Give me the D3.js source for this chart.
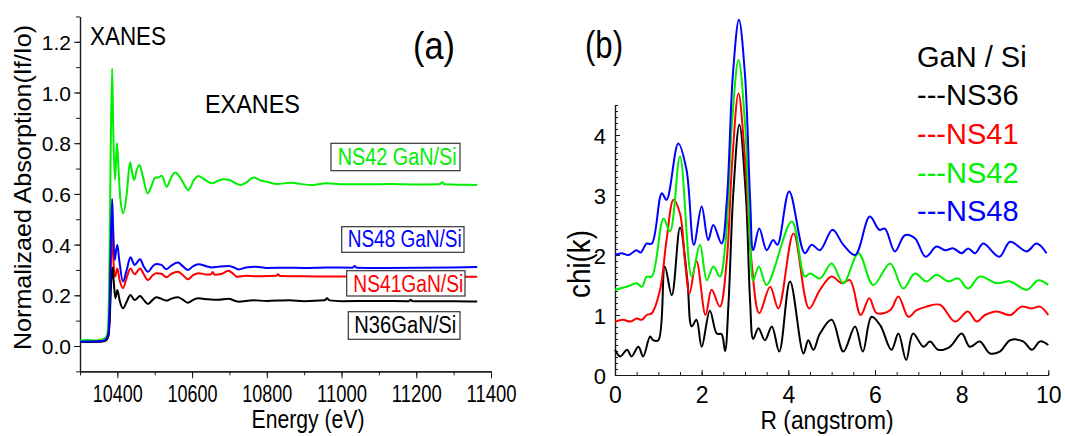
<!DOCTYPE html>
<html>
<head>
<meta charset="utf-8">
<script src="https://cdn.jsdelivr.net/npm/d3@7"></script>
<style>
  html, body { margin: 0; padding: 0; background: #fff; }
  svg { display: block; }
  text { font-family: "Liberation Sans", Arial, sans-serif; }
</style>
</head>
<body>
<svg id="chart" width="1065" height="436"></svg>
<script>
// ---------- (a) XANES / EXAFS: normalized absorption vs energy ----------
const energyTicks = [10400, 10600, 10800, 11000, 11200, 11400];
const absorptionTicks = [0.0, 0.2, 0.4, 0.6, 0.8, 1.0, 1.2];

// [energy (eV), normalized absorption]
const xanesNS42 = [[10300,0.022],[10320,0.024],[10340,0.022],[10360,0.026],[10370,0.035],[10375,0.07],[10379,0.35],[10382,0.75],[10386,1.095],[10389,0.85],[10393.5,0.655],[10397,0.75],[10399,0.80],[10403,0.70],[10408,0.58],[10416,0.523],[10425,0.60],[10434,0.725],[10440,0.68],[10445,0.655],[10451,0.69],[10459,0.714],[10468,0.67],[10481,0.602],[10491,0.63],[10501,0.664],[10510,0.665],[10519,0.672],[10532,0.628],[10544,0.665],[10555,0.684],[10570,0.66],[10590,0.615],[10605,0.655],[10617,0.671],[10635,0.655],[10653,0.642],[10670,0.652],[10684,0.658],[10700,0.655],[10729,0.635],[10745,0.645],[10764,0.665],[10785,0.652],[10800,0.648],[10827,0.639],[10863,0.644],[10916,0.635],[10960,0.642],[11005,0.638],[11060,0.638],[11130,0.639],[11200,0.637],[11262,0.638],[11269,0.646],[11276,0.638],[11330,0.636],[11363,0.635]];
const xanesNS48 = [[10300,0.018],[10340,0.018],[10360,0.020],[10370,0.028],[10376,0.05],[10380,0.20],[10383,0.45],[10386,0.58],[10389,0.45],[10393,0.339],[10397,0.38],[10400,0.398],[10405,0.34],[10415,0.254],[10425,0.30],[10435,0.35],[10446,0.32],[10461,0.342],[10470,0.315],[10482,0.293],[10495,0.315],[10504,0.323],[10518,0.32],[10531,0.303],[10545,0.318],[10562,0.329],[10575,0.315],[10589,0.30],[10603,0.315],[10617,0.322],[10640,0.314],[10653,0.310],[10670,0.313],[10697,0.316],[10715,0.308],[10724,0.302],[10745,0.310],[10770,0.313],[10800,0.308],[10850,0.309],[10900,0.308],[10960,0.310],[11030,0.309],[11035,0.316],[11040,0.309],[11100,0.308],[11200,0.309],[11300,0.310],[11363,0.312]];
const xanesNS41 = [[10300,0.016],[10340,0.017],[10360,0.019],[10370,0.024],[10376,0.04],[10380,0.15],[10383,0.35],[10386,0.47],[10389,0.35],[10394,0.273],[10400,0.306],[10406,0.26],[10415,0.228],[10425,0.27],[10435,0.306],[10446,0.283],[10461,0.306],[10470,0.285],[10482,0.26],[10495,0.28],[10504,0.287],[10518,0.285],[10531,0.271],[10545,0.285],[10562,0.293],[10575,0.28],[10589,0.263],[10603,0.28],[10617,0.287],[10640,0.282],[10650,0.282],[10655,0.292],[10660,0.281],[10680,0.285],[10697,0.297],[10710,0.285],[10720,0.273],[10745,0.277],[10770,0.275],[10800,0.276],[10825,0.277],[10830,0.283],[10835,0.276],[10900,0.275],[11000,0.274],[11100,0.274],[11200,0.274],[11300,0.273],[11363,0.273]];
const xanesNS36 = [[10300,0.016],[10340,0.017],[10360,0.018],[10370,0.022],[10376,0.04],[10380,0.12],[10383,0.24],[10387,0.31],[10390,0.26],[10394.6,0.188],[10400,0.221],[10406,0.18],[10415,0.149],[10425,0.175],[10435,0.201],[10446,0.181],[10461,0.197],[10470,0.183],[10482,0.166],[10495,0.183],[10504,0.192],[10518,0.186],[10531,0.179],[10545,0.187],[10562,0.192],[10575,0.183],[10589,0.171],[10603,0.182],[10617,0.188],[10643,0.184],[10670,0.182],[10697,0.186],[10724,0.175],[10764,0.18],[10800,0.178],[10860,0.18],[10900,0.177],[10955,0.18],[10961,0.188],[10968,0.18],[11000,0.177],[11100,0.178],[11180,0.177],[11185,0.182],[11190,0.177],[11300,0.177],[11363,0.176]];

const xanesLabels = ["NS42 GaN/Si", "NS48 GaN/Si", "NS41GaN/Si", "N36GaN/Si"];

// ---------- (b) Fourier transform: chi(k) vs R ----------
const rTicks = [0, 2, 4, 6, 8, 10];
const chiTicks = [0, 1, 2, 3, 4];
const legendTitle = "GaN / Si";
const legendNames = ["NS36", "NS41", "NS42", "NS48"];

// [R (angstrom), chi(k)]
const ftNS36 = [[0,0.42],[0.12,0.31],[0.28,0.42],[0.38,0.31],[0.54,0.47],[0.65,0.31],[0.81,0.64],[0.88,0.58],[1.0,0.58],[1.15,1.81],[1.31,1.33],[1.5,2.46],[1.67,1.58],[1.77,0.81],[1.88,0.92],[2.0,0.47],[2.19,1.07],[2.35,0.69],[2.46,0.68],[2.54,0.40],[2.62,1.2],[2.73,3.03],[2.87,4.17],[3.02,3.0],[3.12,1.2],[3.19,0.60],[3.31,0.78],[3.46,0.58],[3.62,0.81],[3.79,0.39],[4.04,1.56],[4.35,0.36],[4.46,0.58],[4.58,0.42],[4.73,0.69],[5.0,0.92],[5.27,0.39],[5.54,0.81],[5.72,0.39],[5.92,0.97],[6.12,0.83],[6.38,0.42],[6.54,0.69],[6.72,0.25],[6.88,0.69],[7.12,0.47],[7.27,0.56],[7.46,0.42],[7.73,0.47],[8.0,0.69],[8.19,0.47],[8.42,0.56],[8.65,0.36],[8.88,0.39],[9.12,0.58],[9.42,0.56],[9.62,0.42],[9.81,0.56],[10,0.5]];
const ftNS41 = [[0,0.89],[0.19,0.92],[0.35,0.89],[0.5,0.94],[0.62,0.92],[0.73,1.0],[0.85,1.03],[1.04,1.42],[1.19,2.25],[1.35,2.92],[1.5,2.69],[1.62,1.86],[1.72,1.36],[1.88,1.9],[2.09,1.0],[2.23,1.42],[2.42,1.14],[2.58,1.92],[2.7,3.5],[2.85,4.69],[3.0,3.6],[3.15,1.9],[3.33,1.03],[3.58,1.47],[3.77,1.11],[4.12,2.36],[4.48,1.11],[4.73,1.42],[5.0,1.64],[5.23,1.53],[5.42,1.58],[5.67,1.0],[5.87,1.28],[6.04,1.03],[6.35,1.08],[6.54,1.31],[6.77,0.97],[6.96,1.08],[7.19,1.14],[7.5,1.17],[7.85,0.89],[8.14,1.06],[8.35,0.89],[8.54,1.0],[8.81,1.06],[9.12,1.0],[9.38,1.14],[9.62,1.11],[9.81,1.14],[10,1.0]];
const ftNS42 = [[0,1.42],[0.27,1.47],[0.5,1.53],[0.62,1.47],[0.73,1.64],[0.85,1.64],[1.12,2.61],[1.27,2.39],[1.5,3.64],[1.77,1.64],[1.96,2.17],[2.12,1.58],[2.27,1.81],[2.42,1.64],[2.55,2.2],[2.7,4.2],[2.85,5.25],[3.0,4.2],[3.12,2.2],[3.19,1.58],[3.32,1.81],[3.5,1.5],[4.08,2.56],[4.38,1.64],[4.5,1.69],[4.73,1.61],[5.0,1.86],[5.27,1.53],[5.62,2.03],[5.96,1.5],[6.35,1.86],[6.65,1.44],[6.92,1.69],[7.19,1.56],[7.42,1.67],[7.69,1.56],[7.92,1.61],[8.15,1.44],[8.42,1.64],[8.81,1.53],[9.12,1.56],[9.5,1.42],[9.77,1.58],[10,1.5]];
const ftNS48 = [[0,2.0],[0.15,2.03],[0.31,2.0],[0.5,2.08],[0.59,2.04],[0.73,2.19],[0.85,2.19],[1.08,3.03],[1.19,2.92],[1.46,3.86],[1.65,3.42],[1.82,2.17],[2.0,2.81],[2.15,2.25],[2.27,2.5],[2.46,2.19],[2.58,2.9],[2.72,5.0],[2.86,5.92],[3.0,5.0],[3.12,2.9],[3.19,2.08],[3.33,2.44],[3.5,2.08],[3.65,2.25],[3.75,2.17],[4.02,3.06],[4.38,2.03],[4.54,2.17],[4.73,2.08],[5.02,2.42],[5.27,2.17],[5.54,2.0],[5.88,2.64],[6.1,2.42],[6.23,2.44],[6.46,2.06],[6.69,2.33],[6.92,2.28],[7.17,1.97],[7.42,2.14],[7.62,2.08],[7.81,2.11],[8.0,2.03],[8.15,2.11],[8.31,2.03],[8.5,2.19],[8.87,1.97],[9.12,2.22],[9.5,2.06],[9.73,2.19],[9.96,2.03]];

const COLORS = { black: "#000000", red: "#ff0000", green: "#00ee00", blue: "#0000ff" };
const AXIS = "#1a1a1a";

const svg = d3.select("#chart");
svg.append("rect").attr("width", 1065).attr("height", 436).attr("fill", "#fff");

function styleAxis(g) {
  g.select(".domain").attr("stroke", AXIS).attr("stroke-width", 1.2);
  g.selectAll(".tick line").attr("stroke", AXIS).attr("stroke-width", 1);
  g.selectAll("text").attr("fill", "#000").attr("font-family", null);
}

function addText(parent, str, x, y, size, opts = {}) {
  const t = parent.append("text")
    .attr("x", x).attr("y", y)
    .attr("font-size", size)
    .attr("fill", opts.fill || "#000")
    .attr("text-anchor", opts.anchor || "start")
    .text(str);
  if (opts.length) t.attr("textLength", opts.length).attr("lengthAdjust", "spacingAndGlyphs");
  if (opts.rotate) t.attr("transform", `rotate(${opts.rotate},${x},${y})`);
  return t;
}

// ===== Panel (a) =====
const xE = d3.scaleLinear().domain([10300, 11400]).range([80, 491]);
const yA = d3.scaleLinear().domain([-0.1, 1.3]).range([371.35, 16.45]);
const pa = svg.append("g");

// minor ticks
pa.append("g").attr("transform", `translate(0,${yA(-0.1)})`)
  .call(d3.axisBottom(xE).tickValues(d3.range(10300, 11401, 100)).tickSize(4).tickSizeOuter(0).tickFormat(""))
  .call(styleAxis);
pa.append("g").attr("transform", `translate(${xE(10300)},0)`)
  .call(d3.axisLeft(yA).tickValues(d3.range(-1, 14).map(d => d / 10)).tickSize(4).tickSizeOuter(0).tickFormat(""))
  .call(styleAxis);
// major ticks + labels
const axEb = pa.append("g").attr("transform", `translate(0,${yA(-0.1)})`)
  .call(d3.axisBottom(xE).tickValues(energyTicks).tickSize(7).tickSizeOuter(0).tickPadding(7).tickFormat(d3.format("d")))
  .call(styleAxis);
axEb.selectAll("text").attr("font-size", 23).attr("textLength", 50).attr("lengthAdjust", "spacingAndGlyphs");
const axAl = pa.append("g").attr("transform", `translate(${xE(10300)},0)`)
  .call(d3.axisLeft(yA).tickValues(absorptionTicks).tickSize(6).tickSizeOuter(0).tickPadding(3).tickFormat(d3.format(".1f")))
  .call(styleAxis);
axAl.selectAll("text").attr("font-size", 21).attr("dy", "0.36em");

const lineA = d3.line().x(d => xE(d[0])).y(d => yA(d[1])).curve(d3.curveMonotoneX);
const seriesA = [
  { data: xanesNS42, color: COLORS.green },
  { data: xanesNS41, color: COLORS.red },
  { data: xanesNS36, color: COLORS.black },
  { data: xanesNS48, color: COLORS.blue }
];
pa.append("g").selectAll("path").data(seriesA).join("path")
  .attr("d", s => lineA(s.data))
  .attr("fill", "none")
  .attr("stroke", d => d.color)
  .attr("stroke-width", 2)
  .attr("stroke-linejoin", "round");

// boxed sample labels
const boxes = [
  { text: xanesLabels[0], color: COLORS.green, x: 331, y: 143.3, w: 129, h: 27.4, tx: 337.7, ty: 165, len: 119 },
  { text: xanesLabels[1], color: COLORS.blue, x: 341.7, y: 226.7, w: 122.3, h: 25.6, tx: 347.7, ty: 246.7, len: 114 },
  { text: xanesLabels[2], color: COLORS.red, x: 346.7, y: 270.7, w: 118.3, h: 25.3, tx: 353.3, ty: 291.7, len: 110 },
  { text: xanesLabels[3], color: COLORS.black, x: 348.3, y: 311.7, w: 111.7, h: 27.6, tx: 354.3, ty: 333.3, len: 102 }
];
boxes.forEach(b => {
  pa.append("rect").attr("x", b.x).attr("y", b.y).attr("width", b.w).attr("height", b.h)
    .attr("fill", "#fff").attr("stroke", "#333").attr("stroke-width", 1.2);
  addText(pa, b.text, b.tx, b.ty, 23, { fill: b.color, length: b.len });
});

addText(pa, "XANES", 90, 45, 25, { length: 76 });
addText(pa, "EXANES", 205, 113, 26, { length: 95 });
addText(pa, "(a)", 413, 59, 38, { length: 42 });
addText(pa, "Energy (eV)", 308, 428, 25, { anchor: "middle", length: 113 });
addText(pa, "Normalizaed Absorption(If/Io)", 31, 187.5, 24, { anchor: "middle", length: 325, rotate: -90 });

// ===== Panel (b) =====
const xR = d3.scaleLinear().domain([0, 10]).range([615, 1048.3]);
const yC = d3.scaleLinear().domain([0, 4.5]).range([375, 105]);
const pb = svg.append("g");

pb.append("g").attr("transform", `translate(0,${yC(0)})`)
  .call(d3.axisBottom(xR).tickValues(d3.range(0, 21).map(d => d / 2)).tickSize(-3).tickSizeOuter(0).tickFormat(""))
  .call(styleAxis);
pb.append("g").attr("transform", `translate(${xR(0)},0)`)
  .call(d3.axisLeft(yC).tickValues(d3.range(0, 46).map(d => d / 10)).tickSize(-3).tickSizeOuter(0).tickFormat(""))
  .call(styleAxis);
const axRb = pb.append("g").attr("transform", `translate(0,${yC(0)})`)
  .call(d3.axisBottom(xR).tickValues(rTicks).tickSize(-5).tickSizeOuter(0).tickPadding(12).tickFormat(d3.format("d")))
  .call(styleAxis);
axRb.selectAll("text").attr("font-size", 23);
const axCl = pb.append("g").attr("transform", `translate(${xR(0)},0)`)
  .call(d3.axisLeft(yC).tickValues(chiTicks).tickSize(-5).tickSizeOuter(0).tickPadding(9).tickFormat(d3.format("d")))
  .call(styleAxis);
axCl.selectAll("text").attr("font-size", 22).attr("dy", "0.37em");

const lineB = d3.line().x(d => xR(d[0])).y(d => yC(d[1])).curve(d3.curveCatmullRom.alpha(0.5));
const seriesB = [
  { data: ftNS36, color: COLORS.black },
  { data: ftNS41, color: COLORS.red },
  { data: ftNS42, color: COLORS.green },
  { data: ftNS48, color: COLORS.blue }
];
pb.append("g").selectAll("path").data(seriesB).join("path")
  .attr("d", s => lineB(s.data))
  .attr("fill", "none")
  .attr("stroke", d => d.color)
  .attr("stroke-width", 2)
  .attr("stroke-linejoin", "round");

// legend
addText(pb, legendTitle, 917, 66.7, 29);
const legendColors = [COLORS.black, COLORS.red, COLORS.green, COLORS.blue];
legendNames.forEach((n, i) => {
  addText(pb, "---" + n, 917, 105 + i * 38.8, 29, { fill: legendColors[i] });
});

addText(pb, "(b)", 585, 58, 38, { length: 38 });
addText(pb, "R (angstrom)", 827, 429, 25, { anchor: "middle", length: 133 });
addText(pb, "chi(k)", 590, 264, 32, { anchor: "middle", length: 68, rotate: -90 });
</script>
</body>
</html>
